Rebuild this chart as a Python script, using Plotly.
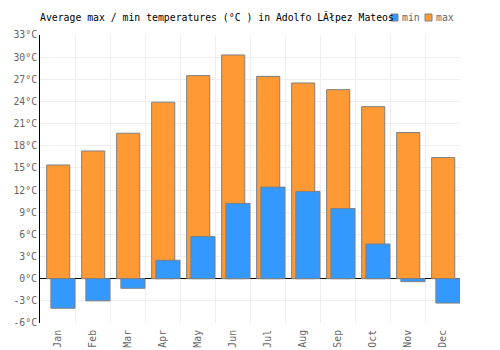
import plotly.graph_objects as go

months = ["Jan", "Feb", "Mar", "Apr", "May", "Jun", "Jul", "Aug", "Sep", "Oct", "Nov", "Dec"]
max_temps = [15.4, 17.3, 19.7, 23.9, 27.5, 30.3, 27.4, 26.5, 25.6, 23.3, 19.8, 16.4]
min_temps = [-4.0, -3.0, -1.3, 2.5, 5.7, 10.2, 12.4, 11.8, 9.5, 4.7, -0.4, -3.3]
y_ticks = list(range(-6, 34, 3))
y_labels = [f"{v}°C" for v in y_ticks]
series_names = ["min", "max"]
series_colors = ["#3399ff", "#ff9933"]

FONT = "DejaVu Sans Mono"
L, R, T, B, W, H = 40, 40, 35, 27, 500, 350
PW, PH = W - L - R, H - T - B


def px_x(p):
    return (p - L) / PW


def px_y(p):
    return (H - B - p) / PH


fig = go.Figure()
fig.add_trace(go.Bar(
    x=months, y=max_temps, name="max",
    marker=dict(color=series_colors[1], line=dict(color="#808080", width=1)),
    width=0.66, offset=-0.31, showlegend=False,
))
fig.add_trace(go.Bar(
    x=months, y=min_temps, name="min",
    marker=dict(color=series_colors[0], line=dict(color="#808080", width=1)),
    width=0.69, offset=-0.19, showlegend=False,
))

# manual compact legend (squares + labels)
legend_sq_x = [391, 425]
for name, col, sx in zip(series_names, series_colors, legend_sq_x):
    fig.add_shape(type="rect", xref="paper", yref="paper",
                  x0=px_x(sx), x1=px_x(sx + 7), y0=px_y(21), y1=px_y(14),
                  fillcolor=col, line=dict(color="#808080", width=1))
    fig.add_annotation(text=name, xref="paper", yref="paper",
                       x=px_x(sx + 9), y=px_y(17.5), xanchor="left", yanchor="middle",
                       showarrow=False, font=dict(family=FONT, size=9.8, color="#666666"))

fig.update_layout(
    width=W, height=H,
    margin=dict(l=L, r=R, t=T, b=B),
    barmode="overlay",
    plot_bgcolor="white", paper_bgcolor="white",
    title=dict(text="Average max / min temperatures (°C ) in Adolfo LĂłpez Mateos",
               x=40/500, xanchor="left", y=1-18/350, yanchor="middle",
               font=dict(family=FONT, size=9.8, color="black")),
    showlegend=False,
    font=dict(family=FONT, size=9.8, color="#666666"),
)
fig.update_xaxes(
    type="category", tickson="boundaries", showgrid=True, gridcolor="#eeeeee",
    tickangle=-90, ticks="", showline=False, automargin=False,
    tickfont=dict(family=FONT, size=9.8, color="#666666"),
    range=[-0.5, 11.5], ticklabelstandoff=4,
)
fig.update_yaxes(
    range=[-6, 33], tickvals=y_ticks, ticktext=y_labels,
    showgrid=True, gridcolor="#eeeeee", zeroline=True, zerolinecolor="black", zerolinewidth=1,
    showline=True, linecolor="black", linewidth=1, ticks="", automargin=False,
    tickfont=dict(family=FONT, size=9.8, color="#666666"),
)
fig.write_html("out.html")
